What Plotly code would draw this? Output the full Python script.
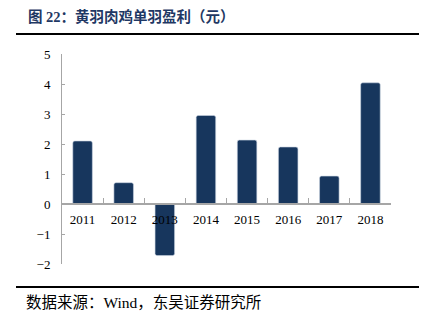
import plotly.graph_objects as go

years = ["2011", "2012", "2013", "2014", "2015", "2016", "2017", "2018"]
profit = [2.1, 0.71, -1.72, 2.95, 2.13, 1.9, 0.93, 4.04]
y_ticks = [-2, -1, 0, 1, 2, 3, 4, 5]

title_text = "图 22：黄羽肉鸡单羽盈利（元）"
source_text = "数据来源：Wind，东吴证券研究所"

W, H = 438, 322
L, R, T, B = 62, 47, 54, 58
pw, ph = W - L - R, H - T - B

def px_x(px):
    return (px - L) / pw

def px_y(py):
    return (H - B - py) / ph

FONT = "Liberation Serif, Noto Sans CJK SC, serif"
NAVY = "#17365D"
GREY = "#A6A6A6"

ymin, ymax = -2, 5

fig = go.Figure(
    go.Bar(
        x=years,
        y=profit,
        marker=dict(color=NAVY, line=dict(color="#C9D3E0", width=0.6), cornerradius=2),
        hoverinfo="x+y",
    )
)

fig.update_layout(
    width=W,
    height=H,
    margin=dict(l=L, r=R, t=T, b=B, pad=0),
    paper_bgcolor="white",
    plot_bgcolor="white",
    bargap=0.525,
    showlegend=False,
    font=dict(family=FONT, size=13, color="black"),
    xaxis=dict(
        type="category",
        anchor="free",
        position=(0 - ymin) / (ymax - ymin),
        showline=True,
        linecolor=GREY,
        linewidth=1.5,
        ticks="inside",
        tickson="boundaries",
        ticklen=5,
        tickcolor=GREY,
        tickwidth=1,
        showgrid=False,
        tickfont=dict(family=FONT, size=13, color="black"),
        ticklabelstandoff=4,
        layer="above traces",
    ),
    yaxis=dict(
        range=[ymin, ymax],
        tickvals=y_ticks,
        showline=True,
        linecolor=GREY,
        linewidth=1,
        ticks="inside",
        ticklen=3,
        tickcolor=GREY,
        showgrid=False,
        zeroline=False,
        tickfont=dict(family=FONT, size=13, color="black"),
        ticklabelstandoff=8,
    ),
    shapes=[
        dict(type="line", xref="paper", yref="paper",
             x0=px_x(16), x1=px_x(419), y0=px_y(34), y1=px_y(34),
             line=dict(color="black", width=2)),
        dict(type="line", xref="paper", yref="paper",
             x0=px_x(16), x1=px_x(419), y0=px_y(287), y1=px_y(287),
             line=dict(color="black", width=2)),
    ],
    annotations=[
        dict(text="<b>" + title_text + "</b>", xref="paper", yref="paper",
             x=px_x(26), y=px_y(17), xanchor="left", yanchor="middle",
             showarrow=False,
             font=dict(family=FONT, size=14.5, color="#1F3864")),
        dict(text=source_text, xref="paper", yref="paper",
             x=px_x(24), y=px_y(302), xanchor="left", yanchor="middle",
             showarrow=False,
             font=dict(family=FONT, size=15.5, color="black")),
    ],
)

fig.write_html("out.html")
